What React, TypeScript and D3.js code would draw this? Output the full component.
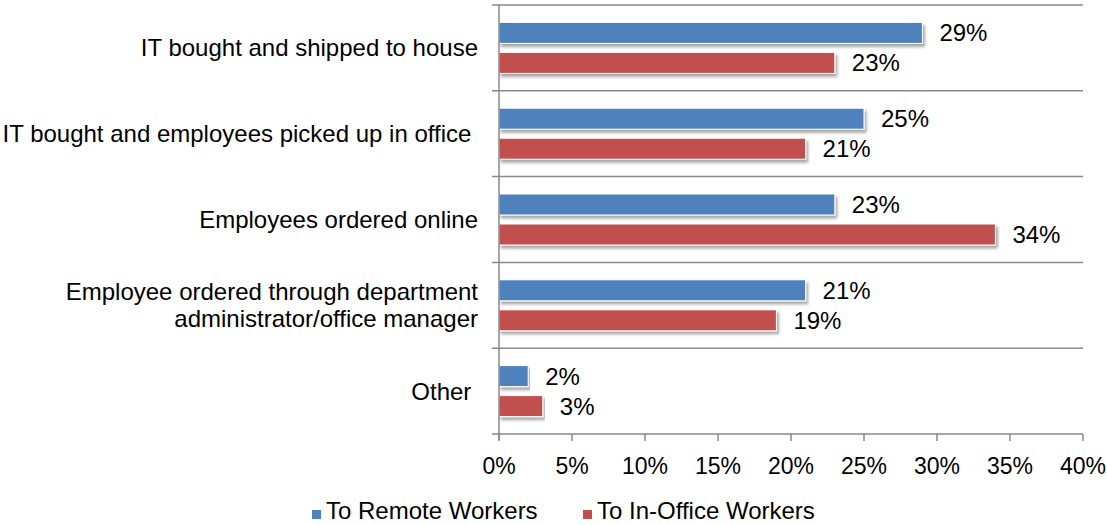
import * as d3 from 'd3'

const categories = [
  ['IT bought and shipped to house'],
  ['IT bought and employees picked up in office '],
  ['Employees ordered online'],
  ['Employee ordered through department', 'administrator/office manager'],
  ['Other '],
]
const remoteValues = [29, 25, 23, 21, 2]
const officeValues = [23, 21, 34, 19, 3]
const seriesNames = ['To Remote Workers', 'To In-Office Workers']
const seriesColors = ['#4F81BD', '#C0504D']
const xTicks = [0, 5, 10, 15, 20, 25, 30, 35, 40]

const W = 1107
const H = 525
const left = 499
const right = 1083
const top = 5
const bottom = 434
const font = 'Liberation Sans, Arial, sans-serif'

export default function App() {
  const x = d3.scaleLinear().domain([0, 40]).range([left, right])
  const y = d3.scaleBand<number>().domain(d3.range(categories.length)).range([top, bottom])
  const bw = y.bandwidth()
  const barH = 21
  const gap = 9
  const offY = (bw - (2 * barH + gap)) / 2

  const series = [remoteValues, officeValues]

  return (
    <svg width={W} height={H} style={{ position: 'absolute', left: 0, top: 0, background: '#fff' }}>
      <defs>
        <filter id="sh" x="-5%" y="-30%" width="110%" height="180%">
          <feDropShadow dx="2" dy="3" stdDeviation="1.5" floodColor="#000" floodOpacity="0.35" />
        </filter>
      </defs>

      {/* category separators */}
      {d3.range(categories.length + 1).map(i => {
        const yy = i < categories.length ? y(i)! : bottom
        return (
          <line key={'g' + i} x1={left - 7} x2={right} y1={yy} y2={yy} stroke="#898989" strokeWidth={1.5} />
        )
      })}

      {/* bars */}
      {series.map((vals, s) =>
        vals.map((v, i) => {
          const by = y(i)! + offY + s * (barH + gap)
          return (
            <g key={'b' + s + '-' + i}>
              <rect
                x={x(0)}
                y={by}
                width={x(v) - x(0)}
                height={barH}
                fill={seriesColors[s]}
                stroke="#fff"
                strokeWidth={1}
                filter="url(#sh)"
              />
              <text
                x={x(v) + 17}
                y={by + barH / 2}
                dy="0.35em"
                fontFamily={font}
                fontSize={24}
                fill="#000"
              >
                {v}%
              </text>
            </g>
          )
        })
      )}

      {/* y axis */}
      <line x1={left} x2={left} y1={top} y2={bottom + 6} stroke="#898989" strokeWidth={1.5} />

      {/* x axis */}
      {xTicks.map(t => (
        <g key={'t' + t}>
          <line x1={x(t)} x2={x(t)} y1={bottom} y2={bottom + 7} stroke="#898989" strokeWidth={1.5} />
          <text x={x(t)} y={466} dy="0.35em" textAnchor="middle" fontFamily={font} fontSize={23} fill="#000">
            {t}%
          </text>
        </g>
      ))}

      {/* category labels */}
      {categories.map((lines, i) => {
        const cy = y(i)! + bw / 2
        return (
          <text key={'c' + i} textAnchor="end" fontFamily={font} fontSize={24} fill="#000" style={{ whiteSpace: 'pre' }}>
            {lines.map((ln, k) => (
              <tspan key={k} x={478} y={cy + (k - (lines.length - 1) / 2) * 27} dy="0.35em">
                {ln}
              </tspan>
            ))}
          </text>
        )
      })}

      {/* legend */}
      {seriesNames.map((name, s) => {
        const lx = s === 0 ? 312 : 583
        return (
          <g key={'l' + s}>
            <rect x={lx} y={510} width={9} height={9} fill={seriesColors[s]} />
            <text x={lx + 14} y={511} dy="0.35em" fontFamily={font} fontSize={24} fill="#000">
              {name}
            </text>
          </g>
        )
      })}
    </svg>
  )
}
